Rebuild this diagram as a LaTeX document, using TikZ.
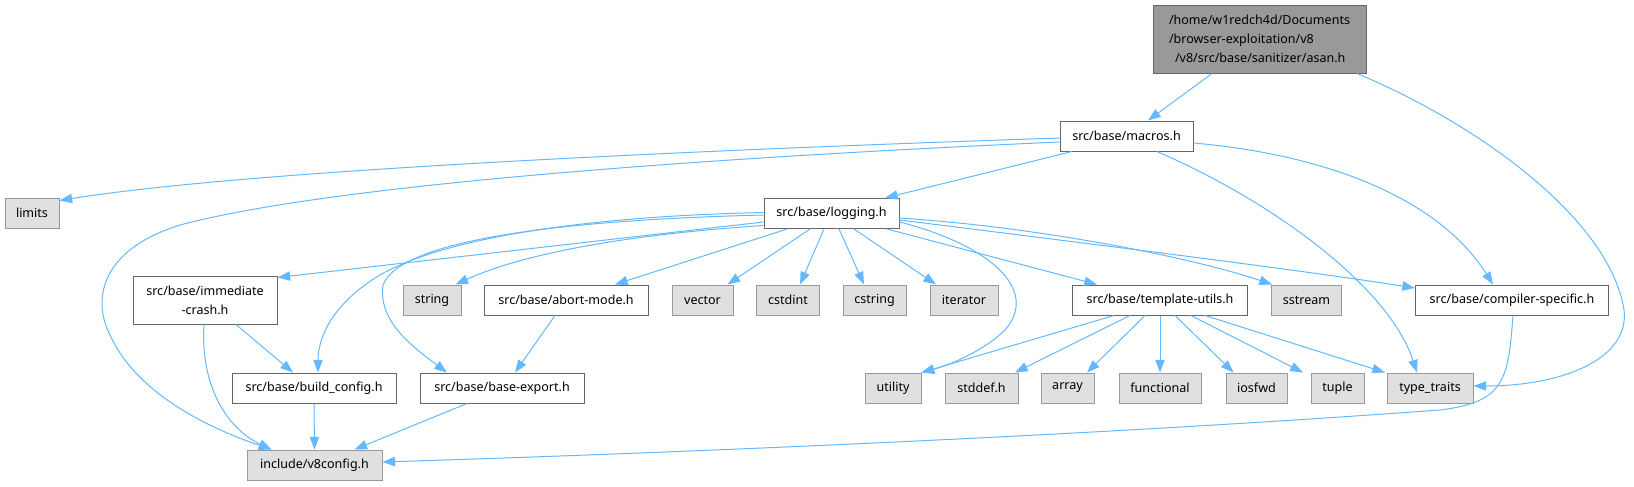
\documentclass[tikz,border=0pt]{standalone}
\usepackage{fontspec}
\setmainfont{Noto Sans}
\usetikzlibrary{arrows.meta,calc}
\definecolor{edgec}{HTML}{63B8FF}
\definecolor{bord}{HTML}{666666}
\definecolor{sysb}{HTML}{999999}
\definecolor{sysf}{HTML}{E0E0E0}
\tikzset{
  box/.style={draw=bord, fill=white, line width=0.75pt, font=\fontsize{9.4}{14.1}\selectfont, minimum height=22.5pt, inner sep=0pt, align=center},
  sys/.style={box, draw=sysb, fill=sysf},
  wpx/.style={minimum width=#1*0.75pt},
  hpx/.style={minimum height=#1*0.75pt},
  edge/.style={draw=edgec, line width=0.75pt, -{Triangle[length=9.5pt,width=7pt]}},
}
\begin{document}
\begin{tikzpicture}[x=0.75pt,y=-0.75pt]
\useasboundingbox (0,0) rectangle (1634,486);
% nodes
\node[box, fill=sysb, draw=bord, wpx=213, hpx=68, align=left] (asan) at (1259.5,39) {/home/w1redch4d/Documents\\/browser-exploitation/v8\\\hspace*{4.5pt}/v8/src/base/sanitizer/asan.h};
\node[box, wpx=133] (macros) at (1126.5,136) {src/base/macros.h};
\node[sys, wpx=54] (limits) at (32,213) {limits};
\node[box, wpx=135] (logging) at (831.5,213.5) {src/base/logging.h};
\node[box, wpx=144, hpx=48] (immediate) at (205,300) {src/base/immediate\\-crash.h};
\node[sys, wpx=58] (string) at (432,300) {string};
\node[box, wpx=164] (abort) at (566,300) {src/base/abort-mode.h};
\node[sys, wpx=61] (vector) at (702.5,300) {vector};
\node[sys, wpx=63] (cstdint) at (788,300) {cstdint};
\node[sys, wpx=63] (cstring) at (874.5,300) {cstring};
\node[sys, wpx=68] (iterator) at (964,300) {iterator};
\node[box, wpx=175] (template) at (1160,300) {src/base/template-utils.h};
\node[sys, wpx=70] (sstream) at (1306.5,300) {sstream};
\node[box, wpx=193] (compiler) at (1512,300) {src/base/compiler-specific.h};
\node[box, wpx=164] (build) at (314,388) {src/base/build\_config.h};
\node[box, wpx=164] (export) at (502,388) {src/base/base-export.h};
\node[sys, wpx=56] (utility) at (893,388) {utility};
\node[sys, wpx=73] (stddef) at (981.5,388) {stddef.h};
\node[sys, wpx=53] (array) at (1067.5,388) {array};
\node[sys, wpx=82] (functional) at (1160,388) {functional};
\node[sys, wpx=61] (iosfwd) at (1256.5,388) {iosfwd};
\node[sys, wpx=53] (tuple) at (1337.5,388) {tuple};
\node[sys, wpx=86] (typetraits) at (1430,388) {type\_traits};
\node[sys, wpx=135] (v8config) at (314.5,465) {include/v8config.h};
% edges from asan
\draw[edge] ($(asan.south)+(-47.5,0)$) -- ($(macros.north)+(21.5,0)$);
\draw[edge] ($(asan.south)+(97.5,0)$) .. controls (1480,125) and (1610,220) .. (1624,310) .. controls (1630,360) and (1560,386) .. ($(typetraits.east)+(0,-2)$);
% edges from macros
\draw[edge] ($(macros.west)+(0,2)$) .. controls (700,150) and (250,170) .. ($(limits.north east)+(0,3)$);
\draw[edge] ($(macros.west)+(0,6)$) .. controls (700,158) and (330,185) .. (180,225) .. controls (100,250) and (92,300) .. (110,335) .. controls (135,390) and (200,425) .. ($(v8config.north west)+(25,0)$);
\draw[edge] ($(macros.south)+(-54.5,0)$) -- ($(logging.north)+(53.5,0)$);
\draw[edge] ($(macros.south)+(30.5,0)$) .. controls (1280,205) and (1390,290) .. ($(typetraits.north)+(-13,0)$);
\draw[edge] ($(macros.east)+(0,7)$) .. controls (1330,155) and (1440,200) .. ($(compiler.north)+(-19,0)$);
% edges from logging
\draw[edge] ($(logging.west)+(0,8.5)$) -- ($(immediate.north east)+(0,2)$);
\draw[edge] ($(logging.west)+(0,-1)$) .. controls (600,216) and (450,235) .. (380,275) .. controls (330,305) and (318,340) .. ($(build.north)+(4,0)$);
\draw[edge] ($(logging.west)+(0,1.5)$) .. controls (560,220) and (400,240) .. (383,285) .. controls (378,320) and (410,345) .. ($(export.north)+(-55,0)$);
\draw[edge] ($(logging.west)+(0,12)$) .. controls (620,235) and (520,255) .. ($(string.north east)+(-6,0)$);
\draw[edge] ($(logging.south)+(-44.5,0)$) -- ($(abort.north)+(49,0)$);
\draw[edge] ($(logging.south)+(-21.5,0)$) -- ($(vector.north)+(25,0)$);
\draw[edge] ($(logging.south)+(-7.5,0)$) -- ($(cstdint.north)+(12,0)$);
\draw[edge] ($(logging.south)+(7.5,0)$) -- ($(cstring.north)+(-10.5,0)$);
\draw[edge] ($(logging.south)+(22.5,0)$) -- ($(iterator.north)+(-28,0)$);
\draw[edge] ($(logging.south)+(55.5,0)$) -- ($(template.north)+(-63,0)$);
\draw[edge] ($(logging.east)+(0,8.5)$) .. controls (990,245) and (1040,290) .. (1005,330) .. controls (985,350) and (950,365) .. (utility.north east);
\draw[edge] ($(logging.east)+(0,4.5)$) .. controls (1050,228) and (1200,260) .. ($(sstream.north west)+(1,0)$);
\draw[edge] ($(logging.east)+(0,6.5)$) .. controls (1100,245) and (1300,270) .. ($(compiler.west)+(0,-12)$);
% other edges
\draw[edge] ($(immediate.south)+(31,0)$) -- ($(build.north)+(-21,0)$);
\draw[edge] ($(immediate.south)+(-1,0)$) .. controls (200,390) and (230,430) .. ($(v8config.north west)+(25,0)$);
\draw[edge] ($(abort.south)+(-11,0)$) -- ($(export.north)+(13,0)$);
\draw[edge] (build.south) -- (v8config.north);
\draw[edge] ($(export.south)+(-35,0)$) -- ($(v8config.north)+(40,0)$);
\draw[edge] ($(compiler.south)+(1,0)$) .. controls (1508,380) and (1505,402) .. (1440,410) .. controls (1100,435) and (700,452) .. ($(v8config.east)+(0,-3)$);
\draw[edge] ($(template.south)+(-46,0)$) -- (utility.north east);
\draw[edge] ($(template.south)+(-30,0)$) -- ($(stddef.north)+(33.5,0)$);
\draw[edge] ($(template.south)+(-15,0)$) -- ($(array.north)+(19.5,0)$);
\draw[edge] (template.south) -- (functional.north);
\draw[edge] ($(template.south)+(15,0)$) -- ($(iosfwd.north)+(-23,0)$);
\draw[edge] ($(template.south)+(31,0)$) -- ($(tuple.north)+(-34.5,0)$);
\draw[edge] ($(template.south)+(45,0)$) -- ($(typetraits.north)+(-45,0)$);
\end{tikzpicture}
\end{document}
